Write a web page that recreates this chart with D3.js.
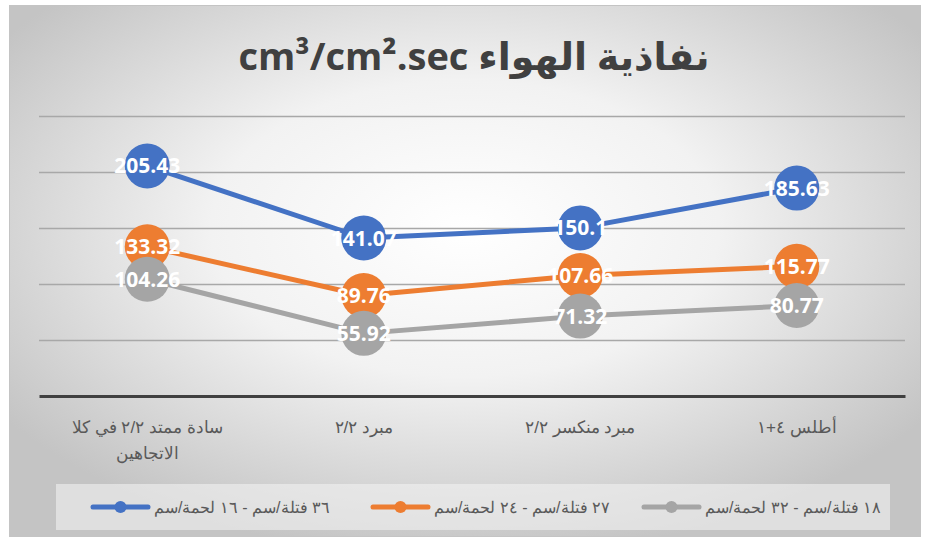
<!DOCTYPE html>
<html>
<head>
<meta charset="utf-8">
<script src="https://cdn.jsdelivr.net/npm/d3@7"></script>
<style>
  body { margin: 0; background: #fff; }
  svg { display: block; }
</style>
</head>
<body>
<div id="chart"></div>
<script>
var categories = ["سادة ممتد ٢/٢ في كلا الاتجاهين", "مبرد ٢/٢", "مبرد منكسر ٢/٢", "أطلس ٤+١"];
var seriesNames = ["٣٦ فتلة/سم - ١٦ لحمة/سم", "٢٧ فتلة/سم - ٢٤ لحمة/سم", "١٨ فتلة/سم - ٣٢ لحمة/سم"];
var blueValues   = [205.43, 141.07, 150.1, 185.63];
var orangeValues = [133.32, 89.76, 107.66, 115.77];
var grayValues   = [104.26, 55.92, 71.32, 80.77];
var yTicks = [0, 50, 100, 150, 200, 250];
var colors = ["#4472c4", "#ed7d31", "#a5a5a5"];

var series = [blueValues, orangeValues, grayValues].map(function(v, i) {
  return { name: seriesNames[i], color: colors[i], values: v };
});

var W = 925, H = 542;
var margin = {top: 116, left: 39, right: 20, bottom: 146},
    width  = W - margin.left - margin.right,
    height = H - margin.top - margin.bottom;

var svg = d3.select("#chart").append("svg")
    .attr("width", W).attr("height", H);

var defs = svg.append("defs");
var grad = defs.append("radialGradient").attr("id", "bg")
    .attr("cx", "50%").attr("cy", "42%").attr("r", "62%");
grad.append("stop").attr("offset", "0%").attr("stop-color", "#ffffff");
grad.append("stop").attr("offset", "45%").attr("stop-color", "#f2f2f2");
grad.append("stop").attr("offset", "100%").attr("stop-color", "#c4c4c4");

svg.append("rect")
    .attr("x", 9.5).attr("y", 5.5).attr("width", 911).attr("height", 531)
    .attr("fill", "url(#bg)").attr("stroke", "#c4c4c4");

svg.append("text")
    .attr("x", 474).attr("y", 70)
    .attr("text-anchor", "middle")
    .style("font-family", "'Open Sans', 'DejaVu Sans', sans-serif")
    .style("font-weight", 700)
    .style("font-size", "38px")
    .attr("fill", "#404040")
    .text("cm³/cm².sec نفاذية الهواء");

var g = svg.append("g").attr("transform", "translate(" + margin.left + "," + margin.top + ")");

var x = d3.scaleBand().domain(categories).range([0, 866]);
var y = d3.scaleLinear().domain([0, 250]).range([280, 0]);

// gridlines
g.append("g")
  .call(d3.axisLeft(y).tickValues(yTicks.slice(1)).tickSize(-866).tickFormat(""))
  .call(function(s) {
    s.select(".domain").remove();
    s.selectAll("line").attr("stroke", "#a8a8a8").attr("stroke-width", 1.3);
  });

// x axis
var xAxis = g.append("g")
  .attr("transform", "translate(0," + y(0) + ")")
  .call(d3.axisBottom(x).tickSize(0).tickPadding(0));
xAxis.select(".domain").attr("stroke", "#404040").attr("stroke-width", 3);
xAxis.selectAll(".tick text").remove();

// category labels with wrapping
categories.forEach(function(c) {
  var t = g.append("text")
    .attr("text-anchor", "middle")
    .attr("direction", "rtl")
    .style("font-family", "'Liberation Sans', Arial, sans-serif")
    .style("font-size", "17px")
    .attr("fill", "#595959");
  var cx = x(c) + x.bandwidth() / 2;
  var words = c.split(" "), line = [], lineNo = 0;
  var ts = t.append("tspan").attr("x", cx).attr("y", 317);
  words.forEach(function(w) {
    line.push(w);
    ts.text(line.join(" "));
    if (ts.node().getComputedTextLength() > 185 && line.length > 1) {
      line.pop();
      ts.text(line.join(" "));
      line = [w];
      lineNo++;
      ts = t.append("tspan").attr("x", cx).attr("y", 317 + lineNo * 26).text(w);
    }
  });
});

var line = d3.line()
  .x(function(d, i) { return x(categories[i]) + x.bandwidth() / 2; })
  .y(function(d) { return y(d); });

series.forEach(function(s) {
  g.append("path")
    .datum(s.values)
    .attr("d", line)
    .attr("fill", "none")
    .attr("stroke", s.color)
    .attr("stroke-width", 5)
    .attr("stroke-linejoin", "round");
  g.selectAll(null).data(s.values).enter().append("circle")
    .attr("cx", function(d, i) { return x(categories[i]) + x.bandwidth() / 2; })
    .attr("cy", function(d) { return y(d); })
    .attr("r", 22.5)
    .attr("fill", s.color);
});

series.forEach(function(s) {
  g.selectAll(null).data(s.values).enter().append("text")
    .attr("x", function(d, i) { return x(categories[i]) + x.bandwidth() / 2; })
    .attr("y", function(d) { return y(d); })
    .attr("dy", "0.36em")
    .attr("text-anchor", "middle")
    .style("font-family", "'Open Sans', sans-serif")
    .style("font-weight", 700)
    .style("font-size", "21px")
    .attr("fill", "#ffffff")
    .text(function(d) { return String(d); });
});

// legend
svg.append("rect")
  .attr("x", 56).attr("y", 484).attr("width", 834).attr("height", 46)
  .attr("fill", "#f2f2f2").attr("fill-opacity", 0.6);

var legendRight = [330, 610, 881];
series.forEach(function(s, i) {
  var t = svg.append("text")
    .attr("y", 513)
    .attr("text-anchor", "middle")
    .attr("direction", "rtl")
    .style("font-family", "'Liberation Sans', Arial, sans-serif")
    .style("font-size", "16px")
    .attr("fill", "#595959")
    .text(s.name);
  var len = t.node().getComputedTextLength();
  t.attr("x", legendRight[i] - len / 2);
  var mx = legendRight[i] - len - 6;
  svg.append("line")
    .attr("x1", mx - 55).attr("x2", mx).attr("y1", 507).attr("y2", 507)
    .attr("stroke", s.color).attr("stroke-width", 5).attr("stroke-linecap", "round");
  svg.append("circle")
    .attr("cx", mx - 27.5).attr("cy", 507).attr("r", 6)
    .attr("fill", s.color);
});
</script>
</body>
</html>
